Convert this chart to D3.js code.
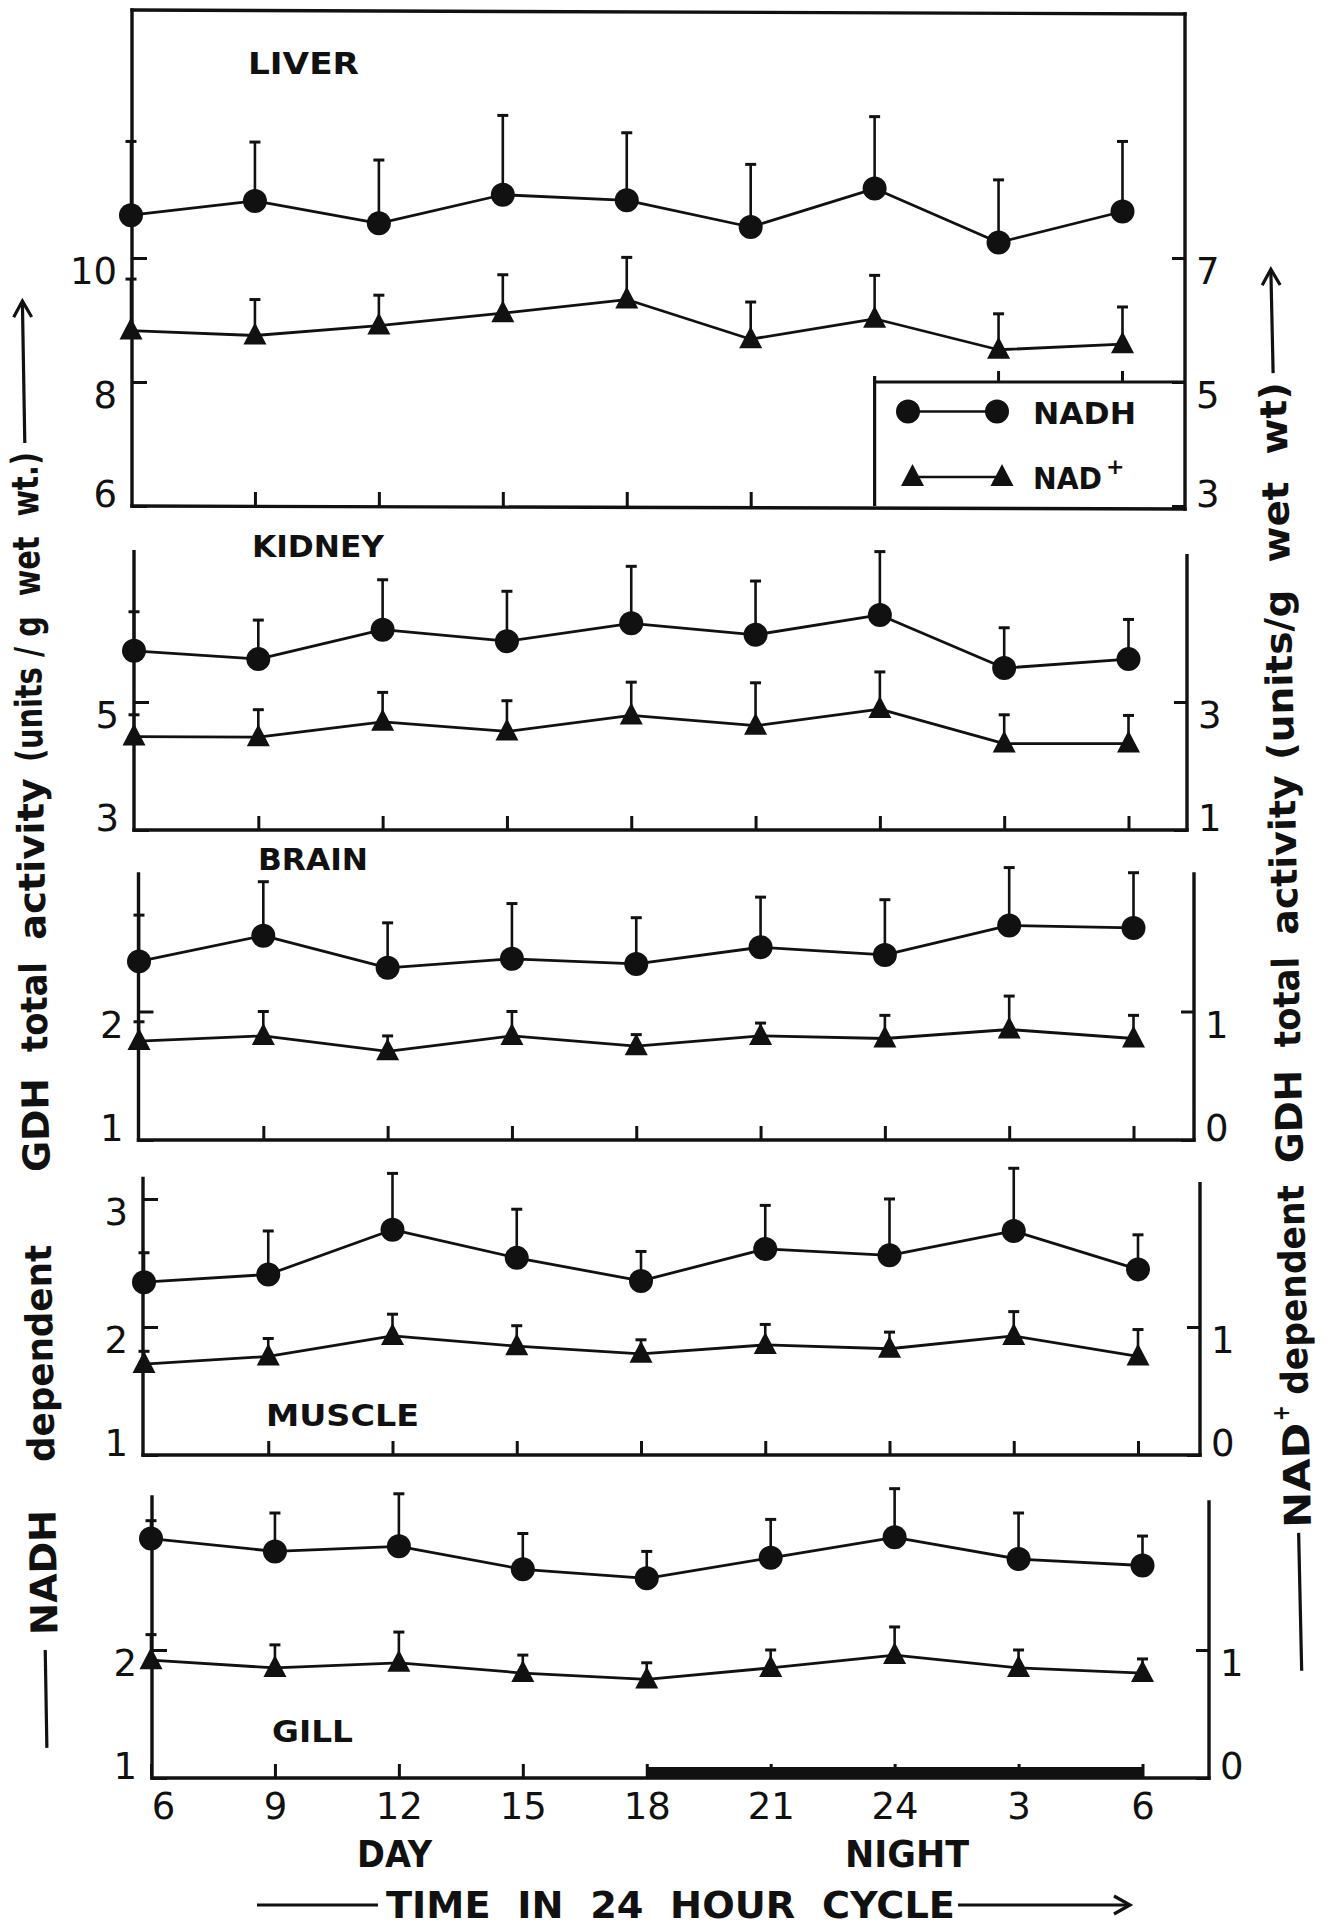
<!DOCTYPE html>
<html>
<head>
<meta charset="utf-8">
<script src="https://cdn.jsdelivr.net/npm/d3@7"></script>
<style>
  html, body { margin: 0; padding: 0; background: #fff; }
  svg { display: block; }
  text { font-family: "DejaVu Sans", "Liberation Sans", sans-serif; fill: #111; }
</style>
</head>
<body>
<svg id="chart" width="1329" height="1928"></svg>
<script>
// Sampling times over the 24 h cycle (clock hours), 06:00 to 06:00 next day
const hours = ["6", "9", "12", "15", "18", "21", "24", "3", "6"];

// GDH total activity (units / g wet wt): means and standard errors
// NADH-dependent values read on the left axis, NAD+-dependent on the right axis
const liverNADH    = [10.69, 10.92, 10.56, 11.02, 10.93, 10.50, 11.12, 10.25, 10.75];
const liverNADHse  = [1.19, 0.95, 1.02, 1.28, 1.09, 1.01, 1.16, 1.01, 1.13];
const liverNAD     = [5.83, 5.75, 5.91, 6.11, 6.33, 5.69, 6.02, 5.52, 5.61];
const liverNADse   = [0.83, 0.58, 0.49, 0.62, 0.68, 0.60, 0.70, 0.58, 0.60];

const kidneyNADH   = [5.80, 5.67, 6.13, 5.95, 6.23, 6.05, 6.36, 5.53, 5.67];
const kidneyNADHse = [0.61, 0.61, 0.78, 0.78, 0.89, 0.84, 0.99, 0.63, 0.62];
const kidneyNAD    = [2.46, 2.45, 2.69, 2.54, 2.79, 2.63, 2.89, 2.35, 2.35];
const kidneyNADse  = [0.34, 0.43, 0.46, 0.48, 0.52, 0.67, 0.58, 0.45, 0.44];

const brainNADH    = [2.39, 2.59, 2.34, 2.41, 2.37, 2.50, 2.44, 2.67, 2.65];
const brainNADHse  = [0.36, 0.42, 0.35, 0.43, 0.36, 0.39, 0.43, 0.45, 0.43];
const brainNAD     = [0.77, 0.81, 0.69, 0.81, 0.73, 0.81, 0.79, 0.86, 0.79];
const brainNADse   = [0.15, 0.19, 0.12, 0.19, 0.09, 0.10, 0.18, 0.26, 0.18];

const muscleNADH   = [2.35, 2.41, 2.76, 2.54, 2.36, 2.61, 2.56, 2.75, 2.45];
const muscleNADHse = [0.23, 0.34, 0.44, 0.38, 0.23, 0.34, 0.44, 0.49, 0.27];
const muscleNAD    = [0.71, 0.77, 0.93, 0.85, 0.79, 0.86, 0.83, 0.93, 0.77];
const muscleNADse  = [0.10, 0.14, 0.17, 0.16, 0.11, 0.16, 0.13, 0.19, 0.21];

const gillNADH     = [2.87, 2.77, 2.81, 2.63, 2.56, 2.72, 2.88, 2.71, 2.66];
const gillNADHse   = [0.14, 0.30, 0.41, 0.28, 0.21, 0.30, 0.38, 0.36, 0.23];
const gillNAD      = [0.92, 0.86, 0.90, 0.82, 0.77, 0.86, 0.96, 0.86, 0.82];
const gillNADse    = [0.20, 0.18, 0.24, 0.14, 0.13, 0.14, 0.22, 0.14, 0.11];

// Labelled ticks of the left (NADH) and right (NAD+) axes
const liverLeftTicks   = [6, 8, 10];
const liverRightTicks  = [3, 5, 7];
const kidneyLeftTicks  = [3, 5];
const kidneyRightTicks = [1, 3];
const brainLeftTicks   = [1, 2];
const brainRightTicks  = [0, 1];
const muscleLeftTicks  = [1, 2, 3];
const muscleRightTicks = [0, 1];
const gillLeftTicks    = [1, 2];
const gillRightTicks   = [0, 1];

// Dark phase of the cycle: from 18:00 (index 4) to 06:00 (index 8)
const nightSpan = [4, 8];

const seriesNames = ["NADH", "NAD"];

// ---- layout of the five stacked panels ----
const panels = [
  { name: "LIVER",  nadh: liverNADH,  nadhSE: liverNADHse,  nad: liverNAD,  nadSE: liverNADse,
    lt: liverLeftTicks, rt: liverRightTicks,
    lDom: [6, 14], rDom: [3, 11], bottom: 506, top: 10, rTop: 14,
    axL: 132, axR: 1185, x0: 131, x8: 1122.5, boxed: true,
    lab: { x: 248, y: 74, w: 111 } },
  { name: "KIDNEY", nadh: kidneyNADH, nadhSE: kidneyNADHse, nad: kidneyNAD, nadSE: kidneyNADse,
    lt: kidneyLeftTicks, rt: kidneyRightTicks,
    lDom: [3, 7.35], rDom: [1, 5.35], bottom: 830, top: 551.6, rTop: 555.6,
    axL: 134, axR: 1187, x0: 134, x8: 1128.5,
    lab: { x: 252, y: 557, w: 132 } },
  { name: "BRAIN",  nadh: brainNADH,  nadhSE: brainNADHse,  nad: brainNAD,  nadSE: brainNADse,
    lt: brainLeftTicks, rt: brainRightTicks,
    lDom: [1, 3.07], rDom: [0, 2.07], bottom: 1140, top: 874, rTop: 874,
    axL: 138.5, axR: 1194, x0: 139, x8: 1133.5,
    lab: { x: 258, y: 870, w: 110 } },
  { name: "MUSCLE", nadh: muscleNADH, nadhSE: muscleNADHse, nad: muscleNAD, nadSE: muscleNADse,
    lt: muscleLeftTicks, rt: muscleRightTicks,
    lDom: [1, 3.16], rDom: [0, 2.16], bottom: 1455, top: 1178.5, rTop: 1183.6,
    axL: 143, axR: 1200, x0: 144, x8: 1138,
    lab: { x: 266, y: 1426, w: 153 } },
  { name: "GILL",   nadh: gillNADH,   nadhSE: gillNADHse,   nad: gillNAD,   nadSE: gillNADse,
    lt: gillLeftTicks, rt: gillRightTicks,
    lDom: [1, 3.195], rDom: [0, 2.195], bottom: 1778, top: 1497, rTop: 1502,
    axL: 152, axR: 1209, x0: 151, x8: 1142.5, last: true,
    lab: { x: 272, y: 1742, w: 81 } }
];

const INK = "#111";
const svg = d3.select("#chart");
svg.append("rect").attr("width", 1329).attr("height", 1928).attr("fill", "#fff");

const triPath = "M0,-13 L11.5,9 L-11.5,9 Z";

function drawMarker(sel, kind) {
  if (kind === "NADH") {
    sel.append("circle").attr("r", 12).attr("fill", INK);
  } else {
    sel.append("path").attr("d", triPath).attr("fill", INK);
  }
}

panels.forEach(p => {
  const g = svg.append("g").attr("class", "panel");
  const idx = d3.range(hours.length);
  const x = d3.scaleLinear().domain([0, hours.length - 1]).range([p.x0, p.x8]);
  const yL = d3.scaleLinear().domain(p.lDom).range([p.bottom, p.top]);
  const yR = d3.scaleLinear().domain(p.rDom).range([p.bottom, p.top]);

  // frame: left axis, bottom axis, right axis (and top border for the first panel)
  const frame = g.append("g").attr("stroke", INK).attr("stroke-width", 3.4).attr("fill", "none")
    .attr("stroke-linecap", "square");
  frame.append("line").attr("x1", p.axL).attr("x2", p.axL).attr("y1", p.top).attr("y2", p.bottom);
  frame.append("line").attr("x1", p.axL).attr("x2", p.axR).attr("y1", p.bottom).attr("y2", p.bottom + (p.boxed ? 3 : 0));
  frame.append("line").attr("x1", p.axR).attr("x2", p.axR).attr("y1", p.rTop).attr("y2", p.bottom + (p.boxed ? 3 : 0));
  if (p.boxed) {
    frame.append("line").attr("x1", p.axL).attr("x2", p.axR).attr("y1", p.top).attr("y2", p.rTop);
  }

  // left axis (NADH)
  const axisL = d3.axisLeft(yL).tickValues(p.lt).tickSize(-15).tickPadding(15).tickFormat(d3.format("d"));
  const gl = g.append("g").attr("transform", `translate(${p.axL},0)`).call(axisL);
  gl.select(".domain").remove();
  gl.selectAll(".tick line").attr("stroke", INK).attr("stroke-width", 3);
  gl.selectAll(".tick text").attr("y", d => d === p.lDom[0] ? -11 : 14)
    .attr("font-size", 37).attr("fill", INK).style("font-family", "DejaVu Sans, sans-serif");

  // right axis (NAD+)
  const axisR = d3.axisRight(yR).tickValues(p.rt).tickSize(-13).tickPadding(11).tickFormat(d3.format("d"));
  const gr = g.append("g").attr("transform", `translate(${p.axR},0)`).call(axisR);
  gr.select(".domain").remove();
  gr.selectAll(".tick line").attr("stroke", INK).attr("stroke-width", 3);
  gr.selectAll(".tick text").attr("y", d => d === p.rDom[0] ? -11 : 14)
    .attr("font-size", 37).attr("fill", INK).style("font-family", "DejaVu Sans, sans-serif");

  // time axis ticks (labels only under the last panel)
  const tickIdx = p.boxed ? d3.range(1, 6) : (p.last ? idx : d3.range(1, hours.length));
  const axisB = d3.axisBottom(x).tickValues(tickIdx).tickSize(-14).tickPadding(15)
    .tickFormat(p.last ? (i => hours[i]) : "");
  const gb = g.append("g").attr("transform", `translate(0,${p.bottom})`).call(axisB);
  gb.select(".domain").remove();
  gb.selectAll(".tick line").attr("stroke", INK).attr("stroke-width", 3);
  gb.selectAll(".tick text").attr("font-size", 37).attr("fill", INK)
    .attr("dx", i => i === 0 ? 12 : 0).style("font-family", "DejaVu Sans, sans-serif");

  // dark period bar along the time axis
  if (p.last) {
    g.append("rect")
      .attr("x", x(nightSpan[0])).attr("width", x(nightSpan[1]) - x(nightSpan[0]))
      .attr("y", p.bottom - 11).attr("height", 11).attr("fill", INK);
  }

  // panel name
  g.append("text").attr("x", p.lab.x).attr("y", p.lab.y)
    .attr("font-size", 31).attr("font-weight", "bold")
    .attr("textLength", p.lab.w).attr("lengthAdjust", "spacingAndGlyphs")
    .text(p.name);

  // series: NADH on the left scale, NAD+ on the right scale
  const series = [
    { kind: "NADH", v: p.nadh, se: p.nadhSE, y: yL },
    { kind: "NAD",  v: p.nad,  se: p.nadSE,  y: yR }
  ];
  series.forEach(s => {
    const sg = g.append("g");
    // error bars (upper limb only)
    sg.selectAll("line.err").data(s.v).join("line").attr("class", "err")
      .attr("x1", (d, i) => x(i)).attr("x2", (d, i) => x(i))
      .attr("y1", d => s.y(d)).attr("y2", (d, i) => s.y(d + s.se[i]))
      .attr("stroke", INK).attr("stroke-width", 2.6);
    sg.selectAll("line.cap").data(s.v).join("line").attr("class", "cap")
      .attr("x1", (d, i) => x(i) - 5.5).attr("x2", (d, i) => x(i) + 5.5)
      .attr("y1", (d, i) => s.y(d + s.se[i])).attr("y2", (d, i) => s.y(d + s.se[i]))
      .attr("stroke", INK).attr("stroke-width", 3);
    // connecting line
    sg.append("path").datum(s.v)
      .attr("d", d3.line().x((d, i) => x(i)).y(d => s.y(d)))
      .attr("fill", "none").attr("stroke", INK).attr("stroke-width", 2.8).attr("stroke-linejoin", "round");
    // markers
    const m = sg.selectAll("g.mk").data(s.v).join("g").attr("class", "mk")
      .attr("transform", (d, i) => `translate(${x(i)},${s.y(d)})`);
    drawMarker(m, s.kind);
  });

  // legend box inside the first panel
  if (p.boxed) {
    const lx = x(6), ly = yR(5);
    const lg = g.append("g");
    lg.append("path")
      .attr("d", `M${lx},${ly - 6} L${lx},${p.bottom} M${lx},${ly} L${p.axR},${ly}`)
      .attr("stroke", INK).attr("stroke-width", 3.2).attr("fill", "none");
    [7, 8].forEach(i => lg.append("line")
      .attr("x1", x(i)).attr("x2", x(i)).attr("y1", ly).attr("y2", ly - 11)
      .attr("stroke", INK).attr("stroke-width", 3));
    const rows = [
      { kind: seriesNames[0], y: 411.5, a: 908, b: 997, lab: "NADH", w: 103 },
      { kind: seriesNames[1], y: 477, a: 912.5, b: 1002, lab: "NAD", w: 69 }
    ];
    rows.forEach(r => {
      lg.append("line").attr("x1", r.a).attr("x2", r.b).attr("y1", r.y).attr("y2", r.y)
        .attr("stroke", INK).attr("stroke-width", 2.4);
      [r.a, r.b].forEach(cx => drawMarker(lg.append("g").attr("transform", `translate(${cx},${r.y})`), r.kind));
      lg.append("text").attr("x", 1033).attr("y", r.y + 12)
        .attr("font-size", 30).attr("font-weight", "bold")
        .attr("textLength", r.w).attr("lengthAdjust", "spacingAndGlyphs").text(r.lab);
    });
    lg.append("text").attr("x", 1106).attr("y", 474).attr("font-size", 22).attr("font-weight", "bold").text("+");
  }
});

// ---- axis titles ----
function arrowHead(g, x, y, dir) {
  // open chevron pointing along +dir (local x direction)
  g.append("path")
    .attr("d", `M${x - 16 * dir},${y - 9} L${x},${y} L${x - 16 * dir},${y + 9}`)
    .attr("fill", "none").attr("stroke", INK).attr("stroke-width", 3.2).attr("stroke-linejoin", "miter");
}

// Vertical title reading upward; each word is given by its [bottom, top] page y
function sideTitle(cx, cy, angle, words, dash, arrow) {
  const g = svg.append("g").attr("transform", `translate(${cx},${cy}) rotate(${angle})`);
  const u = yy => cy - yy;   // page y -> distance along the rotated baseline
  words.forEach(w => {
    g.append("text").attr("x", u(w.from)).attr("y", w.sup ? -15 : 0)
      .attr("dominant-baseline", "central")
      .attr("font-size", w.sup ? 24 : 37).attr("font-weight", "bold")
      .style("white-space", "pre")
      .attr("textLength", w.from - w.to).attr("lengthAdjust", "spacingAndGlyphs")
      .text(w.t);
  });
  g.append("line").attr("x1", u(dash[0])).attr("x2", u(dash[1])).attr("y1", 0).attr("y2", 0)
    .attr("stroke", INK).attr("stroke-width", 3.2);
  g.append("line").attr("x1", u(arrow[0])).attr("x2", u(arrow[1])).attr("y1", 0).attr("y2", 0)
    .attr("stroke", INK).attr("stroke-width", 3.2);
  arrowHead(g, u(arrow[1]), 0, 1);
}

// left: NADH dependent activity
sideTitle(35, 1046, -90.97, [
  { t: "NADH",      from: 1635, to: 1510 },
  { t: "dependent", from: 1462, to: 1245 },
  { t: "GDH",       from: 1172, to: 1078 },
  { t: "total",     from: 1052, to: 962 },
  { t: "activity",  from: 940,  to: 778 },
  { t: "(units / g  wet  wt.)", from: 762, to: 452 }
], [1748, 1650], [443, 301]);

// right: NAD+ dependent activity
sideTitle(1286, 958.5, -91.26, [
  { t: "NAD",       from: 1528, to: 1423 },
  { t: "+",         from: 1421, to: 1405, sup: true },
  { t: "dependent", from: 1395, to: 1185 },
  { t: "GDH",       from: 1163, to: 1070 },
  { t: "total",     from: 1047, to: 957 },
  { t: "activity",  from: 935,  to: 775 },
  { t: "(units/g  wet  wt)", from: 760, to: 382 }
], [1671, 1533], [373, 269]);

// time axis title and day / night captions
svg.append("text").attr("x", 357).attr("y", 1867).attr("font-size", 37).attr("font-weight", "bold")
  .attr("textLength", 75).attr("lengthAdjust", "spacingAndGlyphs").text("DAY");
svg.append("text").attr("x", 845).attr("y", 1867).attr("font-size", 37).attr("font-weight", "bold")
  .attr("textLength", 124).attr("lengthAdjust", "spacingAndGlyphs").text("NIGHT");

const bt = svg.append("g");
bt.append("text").attr("x", 386).attr("y", 1918)
  .attr("font-size", 37).attr("font-weight", "bold").style("white-space", "pre")
  .attr("textLength", 569).attr("lengthAdjust", "spacingAndGlyphs")
  .text("TIME  IN  24  HOUR  CYCLE");
bt.append("line").attr("x1", 257).attr("x2", 378).attr("y1", 1905).attr("y2", 1905).attr("stroke", INK).attr("stroke-width", 3.2);
bt.append("line").attr("x1", 958).attr("x2", 1130).attr("y1", 1905).attr("y2", 1905).attr("stroke", INK).attr("stroke-width", 3.2);
arrowHead(bt, 1130, 1905, 1);
</script>
</body>
</html>
